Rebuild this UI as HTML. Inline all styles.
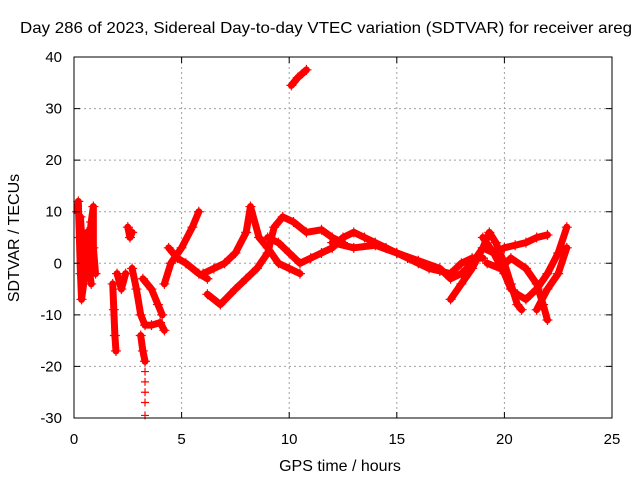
<!DOCTYPE html>
<html><head><meta charset="utf-8"><style>
html,body{margin:0;padding:0;background:#fff;}
svg{display:block;font-family:"Liberation Sans",sans-serif;}
</style></head><body>
<svg id="chart" width="640" height="480">
<text x="20" y="33" font-size="16" textLength="612" lengthAdjust="spacingAndGlyphs" fill="#000">Day 286 of 2023, Sidereal Day-to-day VTEC variation (SDTVAR) for receiver areg</text>
<g id="grid"></g>
<g id="marks"></g>
<rect x="74" y="57" width="538" height="361" fill="none" stroke="#000" stroke-width="1"/>
<g id="axes"></g>
<text x="340" y="471" font-size="16" text-anchor="middle">GPS time / hours</text>
<text x="0" y="0" font-size="16" text-anchor="middle" transform="translate(19,238) rotate(-90)">SDTVAR / TECUs</text>
</svg>
<script>
const xTicks=[0,5,10,15,20,25];
const yTicks=[-30,-20,-10,0,10,20,30,40];
const trackEarly1=[[0.15,10],[0.2,12],[0.25,5],[0.3,-2],[0.35,-7],[0.45,-4],[0.5,2],[0.6,6],[0.7,-1],[0.8,-4]];
const trackEarly2=[[0.3,9],[0.4,2],[0.5,-3],[0.6,0],[0.7,4],[0.8,8],[0.9,11],[0.9,3],[1.0,-2]];
const trackDrop1=[[1.8,-4],[1.85,-9],[1.9,-14],[1.95,-17]];
const trackSmall1=[[2.0,-2],[2.2,-5],[2.4,-2]];
const trackSmall2=[[2.5,7],[2.6,5],[2.7,6]];
const trackDip=[[2.7,-1],[2.9,-5],[3.1,-10],[3.3,-12],[3.6,-12],[4.0,-11.5],[4.2,-13]];
const trackSpike=[[3.1,-14],[3.2,-17],[3.3,-19]];
const sparseSpike=[[3.3,-21],[3.3,-23],[3.3,-25],[3.3,-27],[3.3,-29.5]];
const trackLoop=[[3.2,-3],[3.6,-5],[3.9,-8],[4.1,-10]];
const trackRise=[[4.2,-4],[4.5,0],[5.0,3],[5.5,7],[5.8,10]];
const trackMid=[[4.4,3],[4.8,1],[5.2,0],[5.8,-2],[6.2,-3]];
const trackA=[[6.0,-2],[6.5,-1],[7.0,0],[7.5,2],[8.0,6],[8.2,11],[8.6,5],[9.0,3],[9.5,0],[10.0,-1],[10.5,-2]];
const trackB=[[6.2,-6],[6.8,-8],[7.5,-5],[8.0,-3],[8.5,-1],[9.0,2],[9.3,7],[9.7,9],[10.2,8],[10.8,6],[11.5,6.5],[12.0,5],[12.5,4]];
const trackC=[[9.0,5],[9.5,4],[10.0,2],[10.5,0],[11.0,1],[11.5,2],[12.0,3],[12.5,5],[13.0,6],[13.5,5],[14.0,4],[14.5,3],[15.0,2],[15.5,1],[16.0,0],[16.5,-1],[17.0,-1.5],[17.5,-2],[18.0,0],[18.5,1],[19.0,1]];
const trackD=[[12.0,4],[13.0,3],[14.0,3.5],[15.0,2],[16.0,0.5],[17.0,-1],[17.5,-3],[18.0,-2],[18.5,0]];
const trackE=[[17.5,-7],[18.0,-4],[18.5,-1],[19.0,3],[19.3,6],[19.6,4],[20.0,0],[20.3,-4],[20.6,-8],[20.8,-9]];
const trackF=[[19.0,5],[19.5,2],[20.0,-2],[20.3,-5],[20.6,-6],[21.0,-7],[21.5,-5],[22.0,-2],[22.5,2],[22.9,7]];
const trackG=[[18.5,0],[19.0,3],[19.5,2],[20.0,3],[20.5,3.5],[21.0,4],[21.5,5],[22.0,5.5]];
const trackH=[[19.2,0],[19.8,-1],[20.3,1],[21.0,-1],[21.5,-4],[21.8,-8],[22.0,-11]];
const trackI=[[21.5,-9],[22.0,-5],[22.5,-2],[22.9,3]];
const trackHigh=[[10.1,34.5],[10.4,36],[10.8,37.5]];
const tracks=[trackEarly1,trackEarly2,trackDrop1,trackSmall1,trackSmall2,trackDip,trackSpike,trackLoop,trackRise,trackMid,trackA,trackB,trackC,trackD,trackE,trackF,trackG,trackH,trackI,trackHigh];
const NS='http://www.w3.org/2000/svg';
const X0=74,X1=612,Y0=418,Y1=57;
function sx(v){return X0+(v-0)/(25-0)*(X1-X0);}
function sy(v){return Y0-(v+30)/(70)*(Y0-Y1);}
const grid=document.getElementById('grid'),axes=document.getElementById('axes'),marks=document.getElementById('marks');
function mk(t,a,p){const e=document.createElementNS(NS,t);for(const k in a)e.setAttribute(k,a[k]);p.appendChild(e);return e;}
xTicks.forEach(t=>{const x=sx(t);
 if(t>0&&t<25){const g=mk('line',{x1:x,x2:x,y1:Y1,y2:Y0,stroke:'#a0a0a0','stroke-dasharray':'2,3'},grid);
 
 }
 const tk=mk('path',{d:`M${x},${Y0}v-6M${x},${Y1}v6`,stroke:'#000'},axes);
 
 
 const l=mk('text',{x:x,y:444,'font-size':15,'text-anchor':'middle'},axes);l.textContent=t;
 
 });
yTicks.forEach(t=>{const y=sy(t);
 if(t>-30&&t<40){const g=mk('line',{x1:X0,x2:X1,y1:y,y2:y,stroke:'#a0a0a0','stroke-dasharray':'2,3'},grid);
 
 }
 const tk=mk('path',{d:`M${X0},${y}h6M${X1},${y}h-6`,stroke:'#000'},axes);
 
 
 const l=mk('text',{x:62,y:y+5,'font-size':15,'text-anchor':'end'},axes);l.textContent=t;
 
 });
tracks.forEach(tr=>{
 const pl=mk('polyline',{points:tr.map(p=>sx(p[0])+','+sy(p[1])).join(' '),fill:'none',stroke:'#ff0000','stroke-width':7,'stroke-linejoin':'round','stroke-linecap':'round'},marks);
 
 
 tr.forEach(p=>{const x=sx(p[0]),y=sy(p[1]);
  const m=mk('path',{d:`M${x-5},${y}h10M${x},${y-5}v10`,stroke:'#ff0000','stroke-width':1.2},marks);
  
  });
});
sparseSpike.forEach(p=>{const x=sx(p[0]),y=sy(p[1]);
 const m=mk('path',{d:`M${x-4},${y}h8M${x},${y-4}v8`,stroke:'#ff0000','stroke-width':1.2},marks);
 
 });
</script>
</body></html>
